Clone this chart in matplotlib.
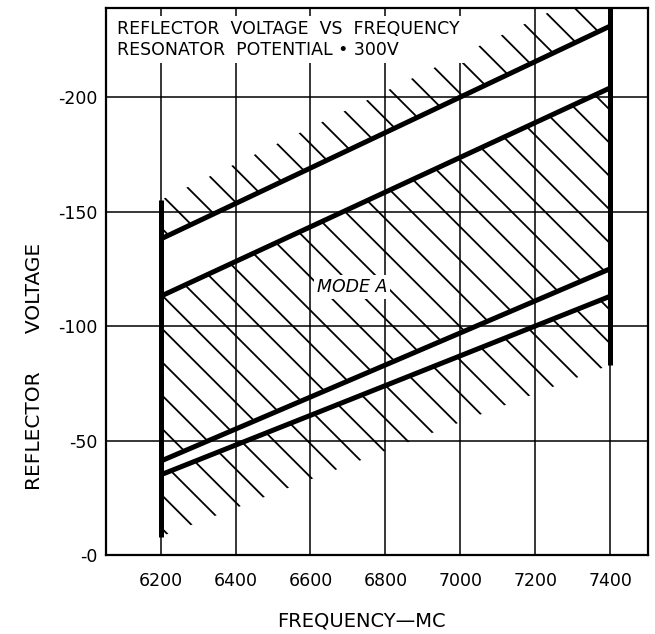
import matplotlib
matplotlib.use("Agg")
import matplotlib.pyplot as plt
import numpy as np

# ---- data ----
frequency_mc = [6200, 7400]
upper_mode_hatch_limit = [-155, -250]   # outer edge of hatching above top line
upper_mode_edge = [-138, -231]          # top thick line
mode_a_upper = [-113, -204]             # upper boundary of mode A
mode_a_lower = [-41, -125]              # lower boundary of mode A
lower_mode_edge = [-35, -113]           # bottom thick line
lower_mode_hatch_limit = [-8, -83]      # outer edge of hatching below bottom line

x_ticks = [6200, 6400, 6600, 6800, 7000, 7200, 7400]
x_tick_labels = ["6200", "6400", "6600", "6800", "7000", "7200", "7400"]
y_ticks = [0, -50, -100, -150, -200]
y_tick_labels = ["-0", "-50", "-100", "-150", "-200"]

plt.rcParams["font.family"] = ["DejaVu Sans"]
plt.rcParams["hatch.linewidth"] = 1.3

fig = plt.figure(figsize=(6.55, 6.34), dpi=100)
ax = fig.add_axes([0.1618, 0.1246, 0.8275, 0.8628])

f = np.array(frequency_mc)

# hatched regions
hatch_kw = dict(facecolor="none", edgecolor="black", linewidth=0, hatch="\\", zorder=1)
ax.fill_between(f, upper_mode_edge, upper_mode_hatch_limit, **hatch_kw)
ax.fill_between(f, mode_a_lower, mode_a_upper, **hatch_kw)
ax.fill_between(f, lower_mode_hatch_limit, lower_mode_edge, **hatch_kw)

# thick boundary lines
for series in (upper_mode_edge, mode_a_upper, mode_a_lower, lower_mode_edge):
    ax.plot(f, series, color="black", linewidth=3.6, solid_capstyle="butt", zorder=3)

# vertical band limits
ax.vlines(f, lower_mode_hatch_limit, upper_mode_hatch_limit, colors="black",
          linewidth=3.6, zorder=3)

ax.set_xlim(6054, 7501)
ax.set_ylim(0, -238.9)

ax.set_xticks(x_ticks)
ax.set_xticklabels(x_tick_labels)
ax.set_yticks(y_ticks)
ax.set_yticklabels(y_tick_labels)
ax.tick_params(axis="x", length=0, pad=12, labelsize=12.5)
ax.tick_params(axis="y", length=0, pad=6, labelsize=12.5)

ax.grid(True, color="black", linewidth=1.1, zorder=0)
ax.set_axisbelow(True)
for sp in ax.spines.values():
    sp.set_linewidth(1.6)

ax.set_xlabel("FREQUENCY\u2014MC", fontsize=14)
ax.xaxis.set_label_coords(0.472, -0.104)
ax.set_ylabel("REFLECTOR      VOLTAGE", fontsize=14.5)
ax.yaxis.set_label_coords(-0.114, 0.345)

ax.text(0.020, 0.9425,
        "REFLECTOR  VOLTAGE  VS  FREQUENCY\nRESONATOR  POTENTIAL \u2022 300V",
        transform=ax.transAxes, fontsize=12.5, ha="left", va="center",
        linespacing=1.2, zorder=5,
        bbox=dict(facecolor="white", edgecolor="none", pad=3))

ax.text(6711, -117, "MODE A", fontsize=12.5, style="italic", ha="center",
        va="center", zorder=5,
        bbox=dict(facecolor="white", edgecolor="none", pad=2))

fig.savefig("out.png", dpi=100)
